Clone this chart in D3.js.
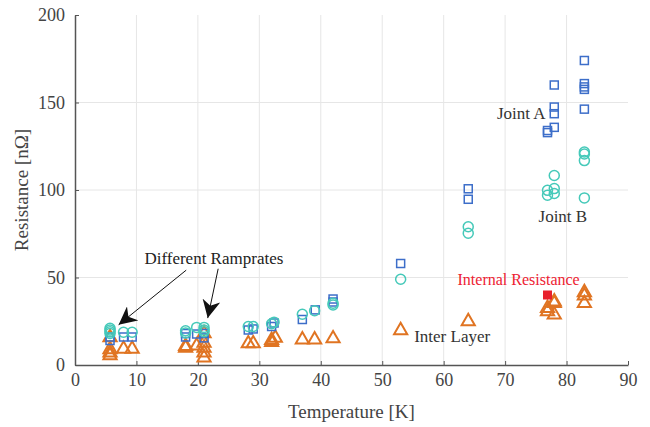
<!DOCTYPE html>
<html><head><meta charset="utf-8">
<script src="https://cdn.jsdelivr.net/npm/d3@7"></script>
<style>body{margin:0;background:#fff}svg{display:block}</style>
</head><body><svg id="c" width="650" height="427"></svg>
<script>
const xTicks=[0,10,20,30,40,50,60,70,80,90];
const yTicks=[0,50,100,150,200];
const jointA=[[5.7,14],[5.7,16],[7.9,16],[9.3,16],[18,16],[18,18],[19.8,17.7],[21,15.5],[21,18],[28.2,20],[29,20.6],[32,22],[32.4,24],[37,26],[39.1,31.5],[42,36],[42,37.7],[53,58],[64,94.7],[64,100.7],[76.9,132.8],[76.9,134],[78,135.8],[78,143.6],[78,147.4],[78,160],[82.9,146.2],[82.9,157.5],[82.9,158.9],[82.9,160.8],[82.9,174]];
const jointB=[[5.7,18],[5.7,19],[5.7,20],[5.7,21],[7.9,18.7],[9.3,18.7],[18,18.3],[18,19.6],[19.8,21.5],[21,19],[21,20],[21,21.5],[28.2,22],[29,22],[32,23.6],[32.4,24.5],[37,29],[39,31],[42,34.3],[42,35.3],[53,49],[64,75.3],[64,79],[76.9,97],[76.9,99.8],[78,98],[78,100.8],[78,108.3],[82.9,95.5],[82.9,116.8],[82.9,120.6],[82.9,121.7]];
const interLayer=[[5.7,5.5],[5.7,7],[5.7,8.9],[5.7,15.8],[7.9,9.2],[9.3,9.2],[18,9.8],[18,10.8],[19.8,11],[21,4.2],[21,7],[21,9.8],[21,12.6],[21,18],[28.2,12.3],[29,12.3],[32,13],[32,14.2],[32.6,15.5],[37,14.5],[39,14.5],[42,15.1],[53,19.8],[64,24.9],[76.9,30.6],[76.9,32.5],[78,28.7],[78,35.3],[78,36.2],[82.9,35.3],[82.9,39.6],[82.9,41.5]];
const internal=[[76.9,40]];

const W=650,H=427,m={l:75,r:22,t:15,b:62};
const svg=d3.select("#c");
const x=d3.scaleLinear().domain([0,90]).range([m.l,W-m.r]);
const y=d3.scaleLinear().domain([0,200]).range([H-m.b,m.t]);
const font="'Liberation Serif','Times New Roman',serif";

// grid
svg.append("g").selectAll("line").data(xTicks.slice(1,-1)).join("line")
 .attr("x1",d=>x(d)).attr("x2",d=>x(d)).attr("y1",y(0)).attr("y2",y(200))
 .attr("stroke","#e6e6e6").attr("stroke-width",1);
svg.append("g").selectAll("line").data(yTicks.slice(1,-1)).join("line")
 .attr("y1",d=>y(d)).attr("y2",d=>y(d)).attr("x1",x(0)).attr("x2",x(90))
 .attr("stroke","#e6e6e6").attr("stroke-width",1);

// axes
const xa=svg.append("g").attr("transform",`translate(0,${y(0)})`)
 .call(d3.axisBottom(x).tickValues(xTicks).tickSizeInner(-4).tickSizeOuter(0).tickPadding(8));
const ya=svg.append("g").attr("transform",`translate(${x(0)},0)`)
 .call(d3.axisLeft(y).tickValues(yTicks).tickSizeInner(-4).tickSizeOuter(0).tickPadding(10));
[xa,ya].forEach(a=>{a.select(".domain").attr("stroke","#555").attr("stroke-width",1.5);
 a.selectAll(".tick line").attr("stroke","#555");
 a.selectAll("text").attr("font-family",font).attr("font-size",18).attr("fill","#444");});

svg.append("text").attr("x",(x(0)+x(90))/2).attr("y",418).attr("text-anchor","middle")
 .attr("font-family",font).attr("font-size",19).attr("fill","#444").text("Temperature [K]");
svg.append("text").attr("transform",`translate(28,${(y(0)+y(200))/2}) rotate(-90)`).attr("text-anchor","middle")
 .attr("font-family",font).attr("font-size",19).attr("fill","#444").text("Resistance [nΩ]");

// markers
const orange="#e07422",blue="#3d6ec9",teal="#45c9b9";
svg.append("g").selectAll("path").data(interLayer).join("path")
 .attr("d",d3.symbol().type(d3.symbolTriangle).size(75))
 .attr("transform",d=>`translate(${x(d[0])},${y(d[1])})`)
 .attr("fill","none").attr("stroke",orange).attr("stroke-width",2);
svg.append("g").selectAll("rect").data(jointA).join("rect")
 .attr("x",d=>x(d[0])-4).attr("y",d=>y(d[1])-4).attr("width",8).attr("height",8)
 .attr("fill","none").attr("stroke",blue).attr("stroke-width",1.5);
svg.append("g").selectAll("circle").data(jointB).join("circle")
 .attr("cx",d=>x(d[0])).attr("cy",d=>y(d[1])).attr("r",5)
 .attr("fill","none").attr("stroke",teal).attr("stroke-width",1.5);
svg.append("g").selectAll("rect").data(internal).join("rect")
 .attr("x",d=>x(d[0])-4.5).attr("y",d=>y(d[1])-4.5).attr("width",9).attr("height",9)
 .attr("fill","#e8202c");

// annotations
function label(t,tx,ty,anchor,col,fs){svg.append("text").attr("x",x(tx)).attr("y",y(ty)).attr("text-anchor",anchor)
 .attr("font-family",font).attr("font-size",fs||17).attr("fill",col).text(t);}
label("Different Ramprates",22.6,57.5,"middle","#222");
label("Joint A",76.6,140.5,"end","#333");
label("Joint B",79.4,81.5,"middle","#333");
label("Internal Resistance",72.2,45.5,"middle","#ee2232",16);
label("Inter Layer",55.2,13,"start","#333");

const defs=svg.append("defs");
defs.append("marker").attr("id","ah").attr("viewBox","0 0 10 10").attr("refX",10).attr("refY",5)
 .attr("markerWidth",18).attr("markerHeight",18).attr("markerUnits","userSpaceOnUse").attr("orient","auto")
 .append("path").attr("d","M0,0 L10,5 L0,10 L3,5 Z").attr("fill","#111");
const arrows=[[18.1,54.2,7.1,23],[23.3,55,21.6,26.8]];
svg.append("g").selectAll("line").data(arrows).join("line")
 .attr("x1",d=>x(d[0])).attr("y1",d=>y(d[1])).attr("x2",d=>x(d[2])).attr("y2",d=>y(d[3]))
 .attr("stroke","#111").attr("stroke-width",1).attr("marker-end","url(#ah)");
</script></body></html>
